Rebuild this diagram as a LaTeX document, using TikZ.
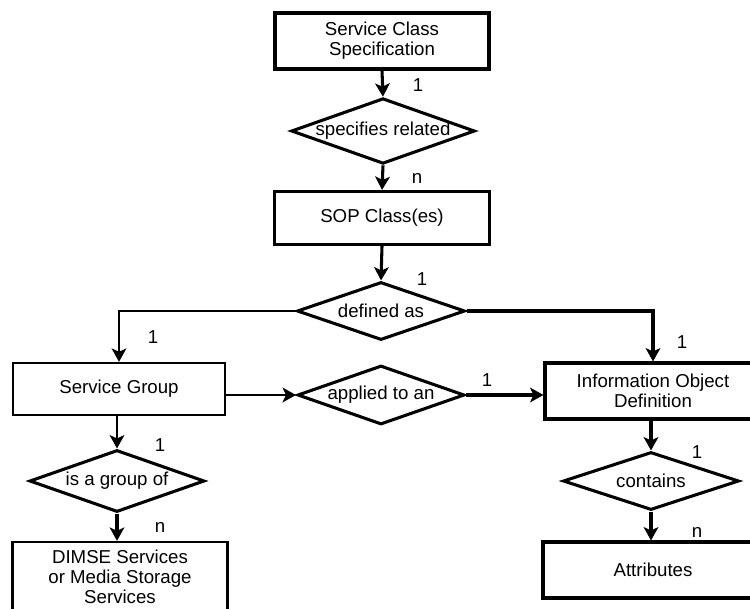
\documentclass[tikz,border=0pt]{standalone}
\usepackage{fontspec}
\setmainfont{Liberation Sans}
\usetikzlibrary{shapes.geometric,arrows.meta}
\begin{document}
\begin{tikzpicture}[x=0.75pt,y=-0.75pt,
  every node/.style={font=\fontsize{14}{15}\selectfont},
  entity/.style={draw, line width=2.3pt, rectangle, inner sep=0pt, align=center},
  relation/.style={draw, line width=2.3pt, diamond, aspect=2.8, inner sep=0pt},
  link/.style={line width=2.3pt, -{Stealth[length=10pt,width=11pt,inset=2.5pt]}},
  card/.style={inner sep=0pt}]
\clip (0,0) rectangle (750,608);
\useasboundingbox (0,0) rectangle (750,608);
\fill[white] (0,0) rectangle (750,608);

% entities
\node[entity, minimum width=160.5pt, minimum height=42pt] (scs) at (382,41) {Service Class\\Specification};
\node[entity, minimum width=161.25pt, minimum height=39.75pt] (sop) at (382,218) {SOP Class(es)};
\node[entity, line width=1.8pt, minimum width=159pt, minimum height=39pt] (sg) at (119,389) {Service Group};
\node[entity, minimum width=162pt, minimum height=42pt] (iod) at (653,391) {Information Object\\Definition};
\node[entity, minimum width=165pt, minimum height=42pt] (attr) at (653,570) {Attributes};
\node[entity, line width=1.8pt, minimum width=161.25pt, minimum height=52.5pt] (dimse) at (120,577) {DIMSE Services\\or Media Storage\\Services};

% relations
\node[relation, minimum width=130.5pt, minimum height=46.5pt] (spec) at (383,131) {specifies related};
\node[relation, minimum width=126pt, minimum height=43.5pt] (def) at (381,311) {defined as};
\node[relation, minimum width=125.25pt, minimum height=44.25pt] (app) at (381,395) {applied to an};
\node[relation, minimum width=132pt, minimum height=43.5pt] (cont) at (651,481) {contains};
\node[relation, minimum width=131.25pt, minimum height=46.5pt] (grp) at (117,481) {is a group of};

% connectors
\draw[link] (scs.south) -- (spec.north);
\draw[link] (spec.south) -- (sop.north);
\draw[link] (sop.south) -- (def.north);
\draw[link, line width=1.8pt] (def.west) -| (sg.north);
\draw[link] (def.east) -| (iod.north);
\draw[link, line width=2pt] (sg.east |- app.west) -- (app.west);
\draw[link] (app.east) -- (iod.west |- app.east);
\draw[link] (iod.south -| cont.north) -- (cont.north);
\draw[link] (cont.south) -- (attr.north -| cont.south);
\draw[link, line width=1.8pt] (sg.south -| grp.north) -- (grp.north);
\draw[link] (grp.south) -- (dimse.north -| grp.south);

% cardinalities
\node[card] (c1) at (418,85) {1};
\node[card] (c2) at (417,178) {n};
\node[card] (c3) at (422,279) {1};
\node[card] (c4) at (153,337) {1};
\node[card] (c5) at (682,342) {1};
\node[card] (c6) at (487,380) {1};
\node[card] (c7) at (160,445) {1};
\node[card] (c8) at (160,527) {n};
\node[card] (c9) at (697,452) {1};
\node[card] (c10) at (697,532) {n};
\end{tikzpicture}
\end{document}
